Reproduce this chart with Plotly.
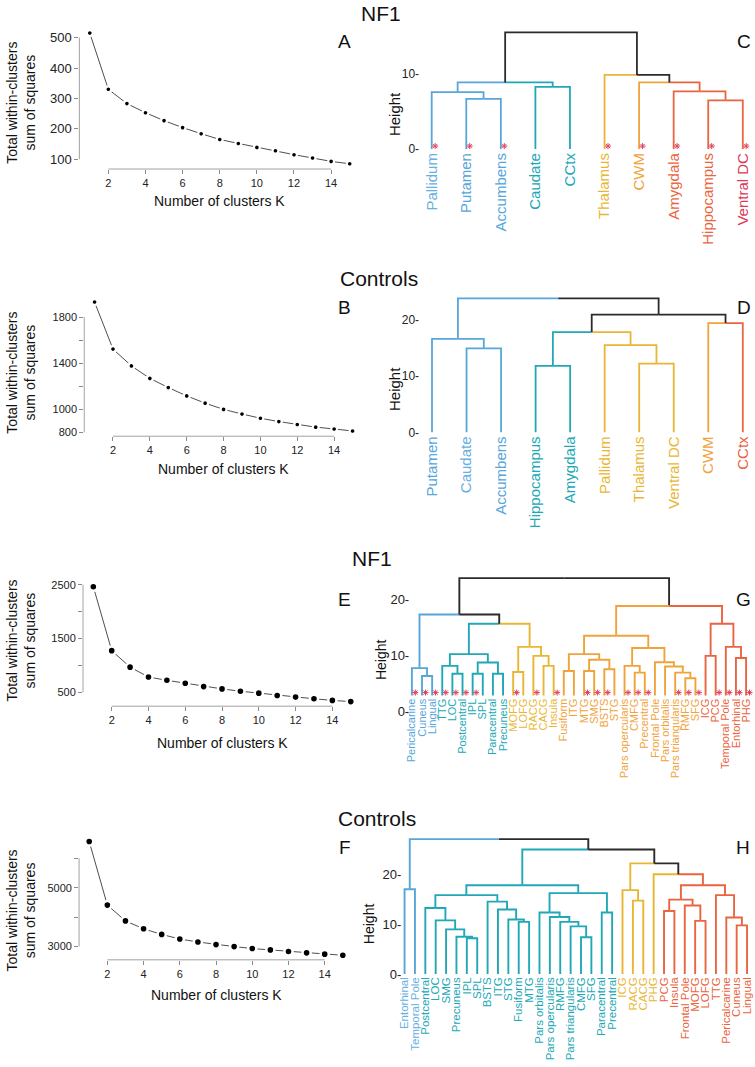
import plotly.graph_objects as go

W, H = 755, 1067
FONT = "Liberation Sans, Arial, Helvetica, sans-serif"

# ---------------- elbow plots: total within-cluster SS vs K ----------------
k_clusters = [1, 2, 3, 4, 5, 6, 7, 8, 9, 10, 11, 12, 13, 14, 15]
k_ticks = [2, 4, 6, 8, 10, 12, 14]

a_wss = [515, 330, 283, 253, 227, 204, 184, 165, 152, 139, 128, 115, 104, 93, 85]
b_wss = [1931, 1523, 1377, 1269, 1189, 1117, 1054, 1000, 960, 923, 894, 869, 846, 830, 812]
e_wss = [2463, 1273, 966, 782, 721, 666, 604, 561, 518, 482, 439, 408, 377, 347, 325]
f_wss = [6564, 4408, 3872, 3603, 3413, 3257, 3156, 3067, 3000, 2933, 2888, 2832, 2788, 2743, 2705]

a_yticks = [100, 200, 300, 400, 500]
a_yticktext = ["100", "200", "300", "400", "500"]
b_yticks = [800, 1000, 1200, 1400, 1600, 1800]
b_yticktext = ["800", "1000", "", "1400", "", "1800"]
e_yticks = [500, 1000, 1500, 2000, 2500]
e_yticktext = ["500", "", "1500", "", "2500"]
f_yticks = [3000, 4000, 5000, 6000]
f_yticktext = ["3000", "", "5000", ""]

# ---------------- dendrograms (R style merge matrix) ----------------
# C: NF1 subcortical
c_leaves = ["Pallidum", "Putamen", "Accumbens", "Caudate", "CCtx",
            "Thalamus", "CWM", "Amygdala", "Hippocampus", "Ventral DC"]
c_merge = [(-2, -3), (-9, -10), (-1, 1), (-8, 2), (-4, -5),
           (3, 5), (-7, 4), (-6, 7), (6, 8)]
c_height = [6.7, 6.5, 7.6, 7.7, 8.3, 8.9, 8.9, 9.9, 15.6]
c_cluster = ["blue", "blue", "blue", "teal", "teal", "yellow", "orange", "red", "red", "red"]
c_label = ["lblue", "blue", "blue", "teal", "teal", "yellow", "orange", "red", "red", "crimson"]
c_star = [1, 1, 1, 0, 0, 1, 1, 1, 1, 1]

# D: Controls subcortical
d_leaves = ["Putamen", "Caudate", "Accumbens", "Hippocampus", "Amygdala",
            "Pallidum", "Thalamus", "Ventral DC", "CWM", "CCtx"]
d_merge = [(-4, -5), (-7, -8), (-2, -3), (-6, 2), (-1, 3),
           (1, 4), (-9, -10), (6, 7), (5, 8)]
d_height = [11.8, 12.2, 14.9, 15.5, 16.6, 17.8, 19.4, 20.9, 23.8]
d_cluster = ["blue", "blue", "blue", "teal", "teal", "yellow", "yellow", "yellow", "orange", "red"]
d_label = ["blue", "lblue", "blue", "teal", "teal", "yellow", "yellow", "yellow", "orange", "red"]
d_star = [0, 0, 0, 0, 0, 0, 0, 0, 0, 0]

# G: NF1 cortical
g_leaves = ["Pericalcarine", "Cuneus", "Lingual", "TTG", "LOC", "Postcentral", "IPL", "SPL",
            "Paracentral", "Precuneus", "MOFG", "LOFG", "RACG", "CACG", "Insula", "Fusiform",
            "ITG", "MTG", "SMG", "BSTS", "STG", "Pars opercularis", "CMFG", "Precentral",
            "Frontal Pole", "Pars orbitalis", "Pars triangularis", "RMFG", "SFG", "ICG", "PCG",
            "Temporal Pole", "Entorhinal", "PHG"]
g_merge = [(-2, -3), (-1, 1), (-5, -6), (-4, 3), (-7, -8), (-9, -10), (5, 6), (4, 7),
           (-11, -12), (-14, -15), (-13, 10), (9, 11), (8, 12), (2, 13),
           (-16, -17), (-18, -19), (-20, -21), (16, 17), (15, 18),
           (-23, -24), (-22, 20), (-28, -29), (-27, 22), (-26, 23), (-25, 24), (21, 25), (19, 26),
           (-30, -31), (-33, -34), (-32, 29), (28, 30), (27, 31), (14, 32)]
g_height = [6.4, 7.8, 6.8, 8.2, 6.8, 6.8, 8.8, 10.3,
            7.1, 8.2, 10.0, 11.6, 15.75, 17.4,
            7.3, 7.3, 7.6, 9.3, 10.3,
            7.0, 8.2, 6.0, 7.0, 8.1, 8.85, 11.4, 13.6,
            10.0, 9.6, 11.6, 15.75, 18.9, 23.9]
g_cluster = (["blue"] * 3 + ["teal"] * 7 + ["yellow"] * 5 + ["orange"] * 14 + ["red"] * 5)
g_label = (["blue"] * 3 + ["teal"] * 7 + ["yellow"] * 5 + ["orange"] * 14 + ["red"] * 5)
g_star = [1, 1, 1, 1, 1, 1, 1, 0, 0, 0, 1, 0, 1, 0, 1, 0, 0, 1, 1, 1, 0,
          1, 1, 1, 0, 0, 1, 1, 1, 0, 1, 1, 1, 1]
g_leaf_base = 2.9

# H: Controls cortical
h_leaves = ["Entorhinal", "Temporal Pole", "Postcentral", "LOC", "SMG", "Precuneus", "IPL",
            "SPL", "BSTS", "ITG", "STG", "Fusiform", "MTG", "Pars orbitalis",
            "Pars opercularis", "RMFG", "Pars triangularis", "CMFG", "SFG", "Paracentral",
            "Precentral", "ICG", "RACG", "CACG", "PHG", "PCG", "Insula", "Frontal Pole",
            "MOFG", "LOFG", "TTG", "Pericalcarine", "Cuneus", "Lingual"]
h_merge = [(-1, -2), (-7, -8), (-6, 2), (-5, 3), (-4, 4), (-3, 5),
           (-12, -13), (-11, 7), (-10, 8), (-9, 9), (6, 10),
           (-18, -19), (-17, 12), (-16, 13), (-15, 14), (-14, 15), (-20, -21), (16, 17), (11, 18),
           (-23, -24), (-22, 20),
           (-26, -27), (-29, -30), (-28, 23), (22, 24), (-33, -34), (-32, 26), (-31, 27), (25, 28),
           (-25, 29), (21, 30), (19, 31), (1, 32)]
h_height = [17.1, 7.2, 7.5, 9.0, 10.8, 13.3,
            10.5, 11.0, 13.0, 14.6, 15.9,
            7.4, 9.6, 10.5, 11.5, 12.4, 12.4, 16.3, 17.9,
            14.8, 16.9,
            12.7, 10.7, 13.8, 15.0, 9.8, 11.4, 15.9, 17.9,
            20.1, 22.3, 25.1, 27.2]
h_cluster = (["blue"] * 2 + ["teal"] * 19 + ["yellow"] * 4 + ["red"] * 9)
h_label = (["lblue"] * 2 + ["teal"] * 19 + ["yellow"] * 4 + ["red"] * 9)
h_star = [0] * 34

BRANCH = {"blue": "#57a6da", "teal": "#20a8b6", "yellow": "#e9b634",
          "orange": "#f1a33b", "red": "#ea6440", "black": "#2b2b2b"}
LABEL = {"lblue": "#66b0e2", "blue": "#55a6da", "teal": "#20a8b6", "yellow": "#e9b634",
         "orange": "#f1a33b", "red": "#ea6440", "crimson": "#dc3a55"}
STAR = "#e0435e"


def ax_names(n):
    s = "" if n == 1 else str(n)
    return "xaxis" + s, "yaxis" + s, "x" + s, "y" + s


def to_px(v, cal):
    p0, v0, p1, v1 = cal
    return p0 + (v - v0) * (p1 - p0) / (v1 - v0)


def to_val(p, cal):
    p0, v0, p1, v1 = cal
    return v0 + (p - p0) * (v1 - v0) / (p1 - p0)


def r_range(vals):
    lo, hi = min(vals), max(vals)
    pad = 0.04 * (hi - lo)
    return [lo - pad, hi + pad]


fig = go.Figure()
layout = {}
shapes = []
annotations = []

AXGRAY = "#8a8a8a"


def elbow(n, wss, yticks, yticktext, xcal, ycal, ytick_size, r, gap):
    xa, ya, xr, yr = ax_names(n)
    xrange_ = r_range(k_clusters)
    yrange_ = r_range(wss)
    left, right = to_px(xrange_[0], xcal), to_px(xrange_[1], xcal)
    top, bottom = to_px(yrange_[1], ycal), to_px(yrange_[0], ycal)
    fig.add_trace(go.Scatter(
        x=k_clusters, y=wss, mode="lines+markers", xaxis=xr, yaxis=yr,
        line=dict(color="#3a3a3a", width=0.9),
        marker=dict(size=2 * r + gap, color="black", line=dict(color="white", width=gap)),
        showlegend=False, hoverinfo="skip", cliponaxis=False))
    layout[xa] = dict(domain=[left / W, right / W], range=xrange_, anchor=yr,
                      tickvals=k_ticks, ticks="outside", ticklen=4, tickwidth=0.8,
                      tickcolor=AXGRAY, showline=False, showgrid=False, zeroline=False,
                      tickfont=dict(size=11, color="#222"))
    layout[ya] = dict(domain=[1 - bottom / H, 1 - top / H], range=yrange_, anchor=xr,
                      tickvals=yticks, ticktext=yticktext, ticks="outside", ticklen=4,
                      tickwidth=0.8, tickcolor=AXGRAY, showline=False, showgrid=False,
                      zeroline=False, tickfont=dict(size=ytick_size, color="#222"))
    shapes.append(dict(type="line", xref=xr, yref=yr + " domain", x0=k_ticks[0], x1=k_ticks[-1],
                       y0=0, y1=0, line=dict(color=AXGRAY, width=0.8)))
    shapes.append(dict(type="line", xref=xr + " domain", yref=yr, x0=0, x1=0,
                       y0=yticks[0], y1=yticks[-1], line=dict(color=AXGRAY, width=0.8)))
    return (left + right) / 2, bottom


def dendro(n, leaves, merge, height, cluster, label, star, xcal, ycal, box,
           label_size, tick_size, yticks, base, lw):
    xa, ya, xr, yr = ax_names(n)
    left, top, right, bottom = box
    nl = len(leaves)
    xs, hs, cols = {}, {}, {}
    for i in range(nl):
        xs[-(i + 1)] = i + 1
        hs[-(i + 1)] = base
        cols[-(i + 1)] = cluster[i]
    segs = {}
    for j, ((a, b), h) in enumerate(zip(merge, height), start=1):
        x = (xs[a] + xs[b]) / 2
        for ch in (a, b):
            sx, sy = segs.setdefault(cols[ch], ([], []))
            sx += [x, xs[ch], xs[ch], None]
            sy += [h, h, hs[ch], None]
        xs[j], hs[j] = x, h
        cols[j] = cols[a] if cols[a] == cols[b] else "black"
    for col, (sx, sy) in segs.items():
        fig.add_trace(go.Scatter(x=sx, y=sy, mode="lines", xaxis=xr, yaxis=yr,
                                 line=dict(color=BRANCH[col], width=lw),
                                 showlegend=False, hoverinfo="skip"))
    ppx = (xcal[2] - xcal[0]) / (xcal[3] - xcal[1])
    ppy = (ycal[0] - ycal[2]) / (ycal[3] - ycal[1])
    sx = [i + 1 + 3.5 / ppx for i in range(nl) if star[i]]
    if sx:
        fig.add_trace(go.Scatter(x=sx, y=[base + 3 / ppy] * len(sx), mode="markers",
                                 xaxis=xr, yaxis=yr, cliponaxis=False,
                                 marker=dict(symbol="asterisk-open", size=5, color=STAR,
                                             line=dict(color=STAR, width=1)),
                                 showlegend=False, hoverinfo="skip"))
    ticktext = ['<span style="color:%s">%s</span>' % (LABEL[label[i]], leaves[i])
                for i in range(nl)]
    xax = dict(domain=[left / W, right / W],
               range=[to_val(left, xcal), to_val(right, xcal)],
               tickvals=list(range(1, nl + 1)), ticktext=ticktext, tickangle=-90,
               ticks="", showline=False, showgrid=False, zeroline=False,
               tickfont=dict(size=label_size, color="#222"))
    if base != 0:
        xax.update(anchor="free", position=1 - to_px(base, ycal) / H)
    else:
        xax.update(anchor=yr)
    layout[xa] = xax
    layout[ya] = dict(domain=[1 - bottom / H, 1 - top / H],
                      range=[to_val(bottom, ycal), to_val(top, ycal)], anchor=xr,
                      tickvals=yticks, ticktext=["%d-" % v for v in yticks], ticks="",
                      showline=False, showgrid=False, zeroline=False,
                      tickfont=dict(size=tick_size, color="#222"))


# elbow panels: calibrations are (pixel, value) pairs of two ticks
ax_a = elbow(1, a_wss, a_yticks, a_yticktext, (104.3, 2, 291.7, 12), (157, 100, 34, 500), 13, 1.8, 2.2)
ax_b = elbow(2, b_wss, b_yticks, b_yticktext, (109, 2, 295, 12), (433.3, 800, 316.7, 1800), 11, 1.8, 2.2)
ax_e = elbow(3, e_wss, e_yticks, e_yticktext, (107.7, 2, 293.3, 12), (696, 500, 587.3, 2500), 11, 2.8, 2.5)
ax_f = elbow(4, f_wss, f_yticks, f_yticktext, (103.3, 2, 322.7, 14), (953.3, 3000, 893.7, 5000), 11, 2.8, 2.5)

dendro(5, c_leaves, c_merge, c_height, c_cluster, c_label, c_star,
       (430.7, 1, 744.7, 10), (146.7, 0, 71, 10), (419, 24, 752, 146.7), 15, 12, [0, 10], 0, 1.8)
dendro(6, d_leaves, d_merge, d_height, d_cluster, d_label, d_star,
       (431, 1, 744.7, 10), (433.3, 0, 319.3, 20), (419, 290, 752, 433.3), 15, 12, [0, 10, 20], 0, 1.8)
dendro(7, g_leaves, g_merge, g_height, g_cluster, g_label, g_star,
       (410.7, 1, 748, 34), (715.8, 0, 602.7, 20), (409, 575, 753, 715.8), 11, 13, [0, 10, 20],
       g_leaf_base, 1.9)
dendro(8, h_leaves, h_merge, h_height, h_cluster, h_label, h_star,
       (403.3, 1, 749, 34), (981, 0, 880.7, 20), (401, 838, 753, 981), 11.5, 13, [0, 10, 20], 0, 1.9)


def note(text, x, y, size, angle=0):
    annotations.append(dict(text=text, x=x / W, y=1 - y / H, xref="paper", yref="paper",
                            xanchor="center", yanchor="middle", showarrow=False,
                            textangle=angle, font=dict(size=size, color="#111", family=FONT)))


# group titles and panel letters
for txt, x, y in [("NF1", 380, 10), ("Controls", 378, 278), ("NF1", 370, 561), ("Controls", 375, 824)]:
    note(txt, x, y, 21)
for txt, x, y in [("A", 343, 38), ("C", 746, 38), ("B", 343, 307), ("D", 746, 307),
                  ("E", 343, 602), ("G", 745, 602), ("F", 343, 853), ("H", 745, 853)]:
    note(txt, x, y, 19)

# elbow axis titles
for (cx, _), ty, yy in [(ax_a, 199, 100), (ax_b, 470, 373), (ax_e, 747, 644), (ax_f, 1002, 917)]:
    note("Number of clusters K", cx, ty, 14)
    note("Total within-clusters<br>sum of squares", 16, yy, 14, -90)

# dendrogram height labels
for x, y, s in [(393, 111, 15), (393, 389, 15), (379, 663, 14), (367, 930, 14)]:
    note("Height", x, y, s, -90)

fig.update_layout(
    width=W, height=H, margin=dict(l=0, r=0, t=0, b=0),
    paper_bgcolor="white", plot_bgcolor="white",
    font=dict(family=FONT, color="#222"),
    shapes=shapes, annotations=annotations, showlegend=False,
    **layout)

# drop the default page margin so the 755x1067 figure fills the window exactly
fig.write_html("out.html", config={"displayModeBar": False},
               post_script="document.body.style.margin='0px';")
